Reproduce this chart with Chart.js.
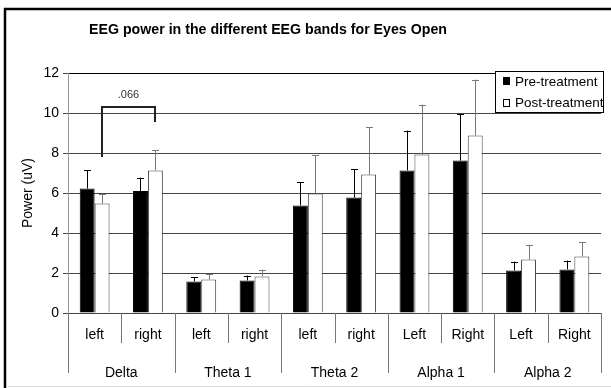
<!DOCTYPE html>
<html>
<head>
<meta charset="utf-8">
<script src="https://cdn.jsdelivr.net/npm/chart.js@4/dist/chart.umd.min.js"></script>
<style>
  html, body { margin: 0; padding: 0; background: #fff; }
  canvas { display: block; }
</style>
</head>
<body>
<canvas id="chart1" width="611" height="388"></canvas>
<script>
// data
const subLabels = ['left', 'right', 'left', 'right', 'left', 'right', 'Left', 'Right', 'Left', 'Right'];
const groups = ['Delta', 'Theta 1', 'Theta 2', 'Alpha 1', 'Alpha 2'];
const preValues = [6.22, 6.10, 1.58, 1.63, 5.38, 5.77, 7.13, 7.62, 2.13, 2.18];
const postValues = [5.47, 7.13, 1.67, 1.83, 5.98, 6.92, 7.92, 8.87, 2.67, 2.82];
const preErr = [0.91, 0.67, 0.22, 0.24, 1.15, 1.43, 1.99, 2.31, 0.44, 0.44];
const postErr = [0.50, 1.00, 0.26, 0.34, 1.92, 2.38, 2.50, 2.80, 0.75, 0.73];
const yTicks = [0, 2, 4, 6, 8, 10, 12];
// bracket: from post bar i to post bar j, top, left leg end, right leg end, text
const bracket = { from: 0, to: 1, top: 10.3, leftEnd: 7.8, rightEnd: 9.55, text: '.066' };

const FONT = "'Liberation Sans', Arial, sans-serif";

const framePlugin = {
  id: 'frame',
  beforeDraw(chart) {
    const c = chart.ctx;
    c.save();
    c.fillStyle = '#fff';
    c.fillRect(0, 0, chart.width, chart.height);
    c.restore();
  },
  afterDraw(chart) {
    const c = chart.ctx;
    c.save();
    c.strokeStyle = '#000';
    c.lineWidth = 2.5;
    c.beginPath();
    c.moveTo(5, chart.height);
    c.lineTo(5, 9);
    c.lineTo(chart.width, 9);
    c.stroke();
    c.strokeStyle = '#ddd';
    c.lineWidth = 1;
    c.beginPath();
    c.moveTo(6, 386.5);
    c.lineTo(chart.width, 386.5);
    c.stroke();
    // title
    c.fillStyle = '#000';
    c.font = 'bold 14.2px ' + FONT;
    c.textAlign = 'center';
    c.textBaseline = 'middle';
    c.fillText('EEG power in the different EEG bands for Eyes Open', 268, 30);
    c.restore();
  }
};

const errorBarPlugin = {
  id: 'errorBars',
  afterDatasetsDraw(chart) {
    const c = chart.ctx;
    const y = chart.scales.y;
    const errs = [preErr, postErr];
    const colors = ['#000', '#777'];
    c.save();
    c.lineWidth = 1;
    chart.data.datasets.forEach((ds, d) => {
      const meta = chart.getDatasetMeta(d);
      meta.data.forEach((bar, i) => {
        const top = y.getPixelForValue(ds.data[i] + errs[d][i]);
        const x = Math.round(bar.x) + 0.5;
        c.strokeStyle = colors[d];
        c.beginPath();
        c.moveTo(x, bar.y);
        c.lineTo(x, top);
        c.moveTo(x - 3.5, Math.round(top) + 0.5);
        c.lineTo(x + 3.5, Math.round(top) + 0.5);
        c.stroke();
      });
    });
    // significance bracket
    const meta = chart.getDatasetMeta(1);
    const x1 = Math.round(meta.data[bracket.from].x);
    const x2 = Math.round(meta.data[bracket.to].x);
    const yt = Math.round(y.getPixelForValue(bracket.top));
    c.strokeStyle = '#222';
    c.lineWidth = 2;
    c.beginPath();
    c.moveTo(x1, y.getPixelForValue(bracket.leftEnd));
    c.lineTo(x1, yt);
    c.lineTo(x2, yt);
    c.lineTo(x2, y.getPixelForValue(bracket.rightEnd));
    c.stroke();
    c.fillStyle = '#333';
    c.font = '11px ' + FONT;
    c.textAlign = 'center';
    c.textBaseline = 'middle';
    c.fillText(bracket.text, (x1 + x2) / 2, yt - 12);
    c.restore();
  }
};

const xLabelsPlugin = {
  id: 'xLabels',
  afterDraw(chart) {
    const c = chart.ctx;
    const x = chart.scales.x;
    const area = chart.chartArea;
    const n = subLabels.length;
    const w = (x.right - x.left) / n;
    c.save();
    c.strokeStyle = '#777';
    c.lineWidth = 1;
    for (let i = 0; i <= n; i++) {
      const px = Math.round(x.left + i * w) + 0.5;
      c.beginPath();
      c.moveTo(px, area.bottom);
      c.lineTo(px, area.bottom + (i % 2 === 0 ? 60 : 30));
      c.stroke();
    }
    c.fillStyle = '#000';
    c.font = '14px ' + FONT;
    c.textAlign = 'center';
    c.textBaseline = 'middle';
    subLabels.forEach((s, i) => {
      c.fillText(s, x.getPixelForValue(i), area.bottom + 22);
    });
    groups.forEach((g, k) => {
      c.fillText(g, x.left + (2 * k + 1) * w, area.bottom + 60);
    });
    c.restore();
  }
};

const legendPlugin = {
  id: 'boxLegend',
  afterDraw(chart) {
    const c = chart.ctx;
    const a = chart.chartArea;
    const bx = a.right - 106, by = a.top - 2, bw = 108, bh = 41;
    c.save();
    c.fillStyle = '#fff';
    c.fillRect(bx, by, bw, bh);
    c.strokeStyle = '#000';
    c.lineWidth = 1;
    c.strokeRect(bx + 0.5, by + 0.5, bw, bh);
    c.beginPath();
    c.rect(bx, by, bw, bh);
    c.clip();
    c.font = '13.5px ' + FONT;
    c.textBaseline = 'middle';
    c.fillStyle = '#000';
    c.fillRect(bx + 8, by + 6, 7, 8);
    c.fillText('Pre-treatment', bx + 20, by + 11);
    c.fillStyle = '#fff';
    c.fillRect(bx + 8, by + 28, 7, 8);
    c.strokeStyle = '#000';
    c.strokeRect(bx + 8.5, by + 28.5, 6, 7);
    c.fillStyle = '#000';
    c.fillText('Post-treatment', bx + 20, by + 32);
    c.restore();
  }
};

window.onload = function () {

  let chart1 = document.getElementById('chart1').getContext('2d');

  let barChart = new Chart(chart1, {
    type: 'bar',
    data: {
      labels: subLabels,
      datasets: [{
        label: 'Pre-treatment',
        data: preValues,
        backgroundColor: '#000',
        borderColor: '#000',
        borderWidth: 1
      },
      {
        label: 'Post-treatment',
        data: postValues,
        backgroundColor: '#fff',
        borderColor: '#444',
        borderWidth: 1
      }]
    },
    options: {
      responsive: false,
      animation: false,
      categoryPercentage: 0.56,
      barPercentage: 1.0,
      layout: { padding: { top: 73, right: 10, left: 0, bottom: 0 } },
      plugins: {
        legend: { display: false },
        title: { display: false },
        tooltip: { enabled: false }
      },
      scales: {
        x: {
          grid: { display: false },
          border: { display: false },
          ticks: { display: false },
          afterFit(s) { s.height = 75; }
        },
        y: {
          min: 0,
          max: 12,
          afterBuildTicks(s) { s.ticks = yTicks.map(v => ({ value: v })); },
          afterFit(s) { s.width = 68; },
          grid: {
            color: ctx => ctx.tick && ctx.tick.value === 12 ? '#000' : '#444',
            tickLength: 5,
            tickColor: '#444'
          },
          border: { color: '#999' },
          ticks: {
            color: '#000',
            font: { family: FONT, size: 14 },
            padding: 4
          },
          title: {
            display: true,
            text: 'Power (uV)',
            color: '#000',
            font: { family: FONT, size: 14 },
            padding: { top: 20, bottom: 0 }
          }
        }
      }
    },
    plugins: [framePlugin, errorBarPlugin, xLabelsPlugin, legendPlugin]
  });
}
</script>
</body>
</html>
